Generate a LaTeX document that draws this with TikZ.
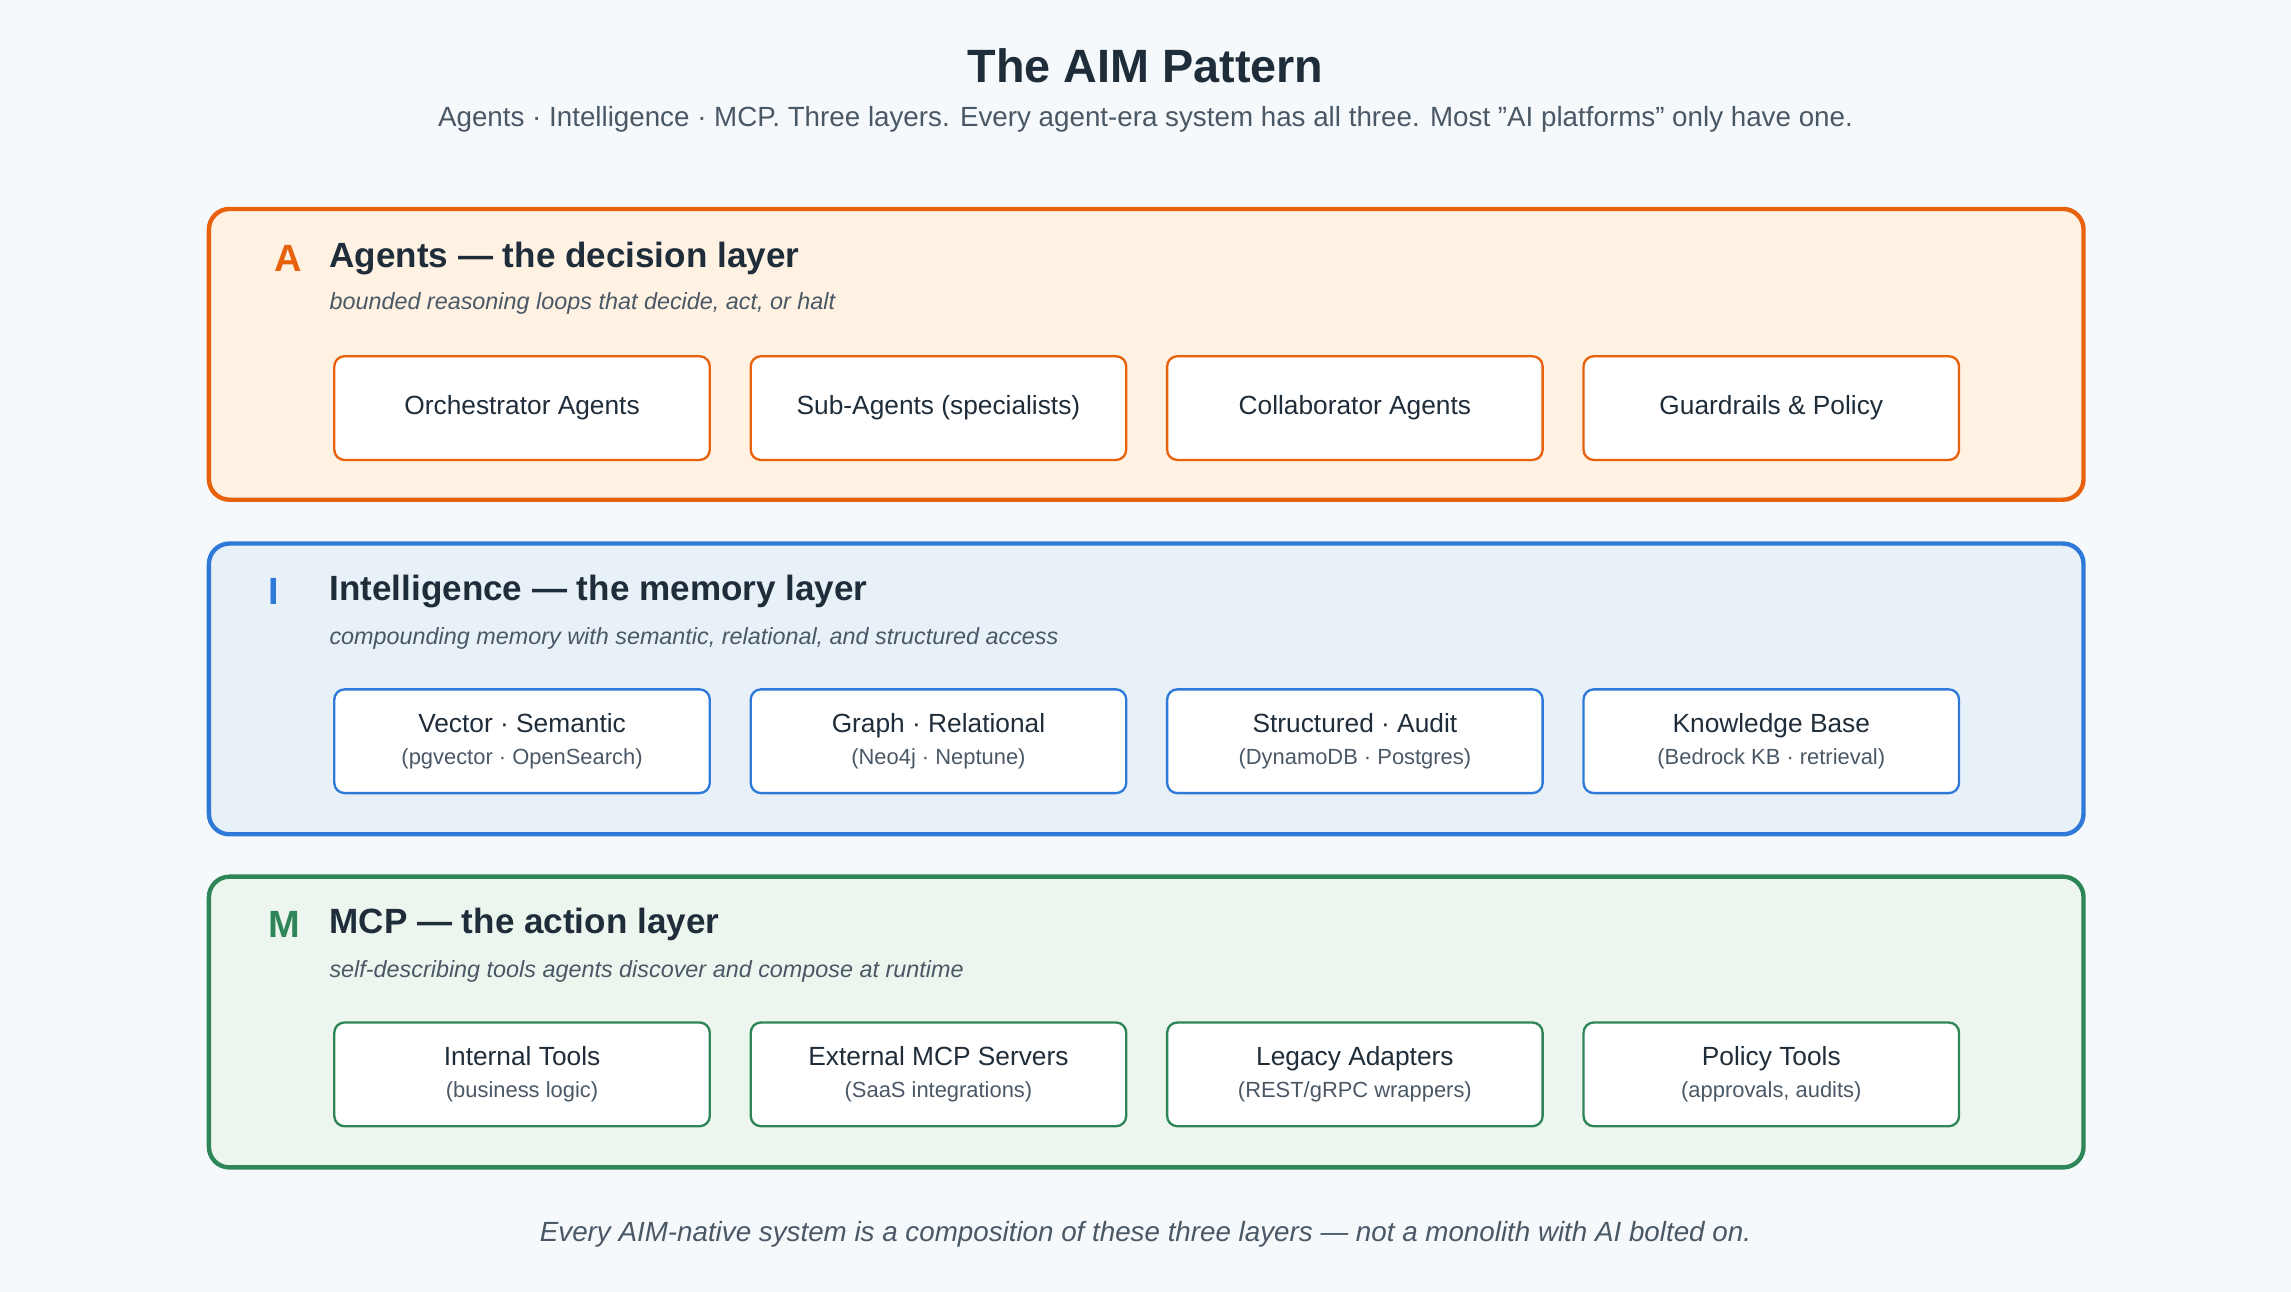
\documentclass[tikz,border=0pt]{standalone}
\usepackage{fontspec}
\setmainfont{Liberation Sans}
\usetikzlibrary{positioning}
\definecolor{bgc}{HTML}{F5F9FC}
\definecolor{ink}{HTML}{1F2D3A}
\definecolor{sub}{HTML}{4A5866}
\definecolor{orA}{HTML}{E8620E}
\definecolor{orF}{HTML}{FFF2E3}
\definecolor{blA}{HTML}{2F7AD8}
\definecolor{blF}{HTML}{E8F0F8}
\definecolor{grA}{HTML}{2E8557}
\definecolor{grF}{HTML}{EDF6EE}
\tikzset{%
    layer/.style={draw=#1, line width=3pt, rounded corners=14pt},
    cell/.style={draw=#1, line width=1.6pt, fill=white, rounded corners=7pt,
        minimum width=257pt, minimum height=71pt, inner sep=0pt, anchor=north west,
        align=center, text=ink, font=\fontsize{18}{24}\selectfont},
    letr/.style={anchor=west, text=#1, font=\fontsize{26}{30}\selectfont\bfseries},
    head/.style={anchor=west, text=ink, font=\fontsize{24}{28}\selectfont\bfseries},
    tag/.style={anchor=west, text=sub, font=\fontsize{16}{20}\selectfont\itshape},
}
\newcommand{\sm}[1]{\\[-2pt]{\fontsize{15}{18}\selectfont\color{sub}#1}}
\begin{document}
\begin{tikzpicture}[x=1pt,y=-1pt]
    \fill[bgc] (0,0) rectangle (1568,884);
    \useasboundingbox (0,0) rectangle (1568,884);
    \node (title) at (784,45) [text=ink, font=\fontsize{32}{36}\selectfont\bfseries]{The AIM Pattern};
    \node (subtitle) at (784,82) [text=sub, font=\fontsize{19}{22}\selectfont]{Agents · Intelligence · MCP. Three layers. Every agent-era system has all three. Most "AI platforms" only have one.};
    % agents
    \draw [layer=orA, fill=orF] (143,143) rectangle (1426,342);
    \node (la) at (184,177) [letr=orA]{A};
    \node (ha) at (222,177) [head]{Agents — the decision layer};
    \node (ta) at (222,208) [tag]{bounded reasoning loops that decide, act, or halt};
    \foreach \t [count=\i] in {Orchestrator Agents, Sub-Agents (specialists), Collaborator Agents, Guardrails \& Policy}
        \node (a\i) at ({228+285*(\i-1)},243) [cell=orA]{\t};
    % intelligence
    \draw [layer=blA, fill=blF] (143,372) rectangle (1426,571);
    \node (li) at (180,405) [letr=blA]{I};
    \node (hi) at (222,405) [head]{Intelligence — the memory layer};
    \node (ti) at (222,437) [tag]{compounding memory with semantic, relational, and structured access};
    \node (i1) at (228,471) [cell=blA]{Vector · Semantic\sm{(pgvector · OpenSearch)}};
    \node (i2) at (513,471) [cell=blA]{Graph · Relational\sm{(Neo4j · Neptune)}};
    \node (i3) at (798,471) [cell=blA]{Structured · Audit\sm{(DynamoDB · Postgres)}};
    \node (i4) at (1083,471) [cell=blA]{Knowledge Base\sm{(Bedrock KB · retrieval)}};
    % mcp
    \draw [layer=grA, fill=grF] (143,600) rectangle (1426,799);
    \node (lm) at (180,633) [letr=grA]{M};
    \node (hm) at (222,633) [head]{MCP — the action layer};
    \node (tm) at (222,665) [tag]{self-describing tools agents discover and compose at runtime};
    \node (m1) at (228,699) [cell=grA]{Internal Tools\sm{(business logic)}};
    \node (m2) at (513,699) [cell=grA]{External MCP Servers\sm{(SaaS integrations)}};
    \node (m3) at (798,699) [cell=grA]{Legacy Adapters\sm{(REST/gRPC wrappers)}};
    \node (m4) at (1083,699) [cell=grA]{Policy Tools\sm{(approvals, audits)}};
    \node (foot) at (784,845) [text=sub, font=\fontsize{19}{22}\selectfont\itshape]{Every AIM-native system is a composition of these three layers — not a monolith with AI bolted on.};
\end{tikzpicture}
\end{document}
